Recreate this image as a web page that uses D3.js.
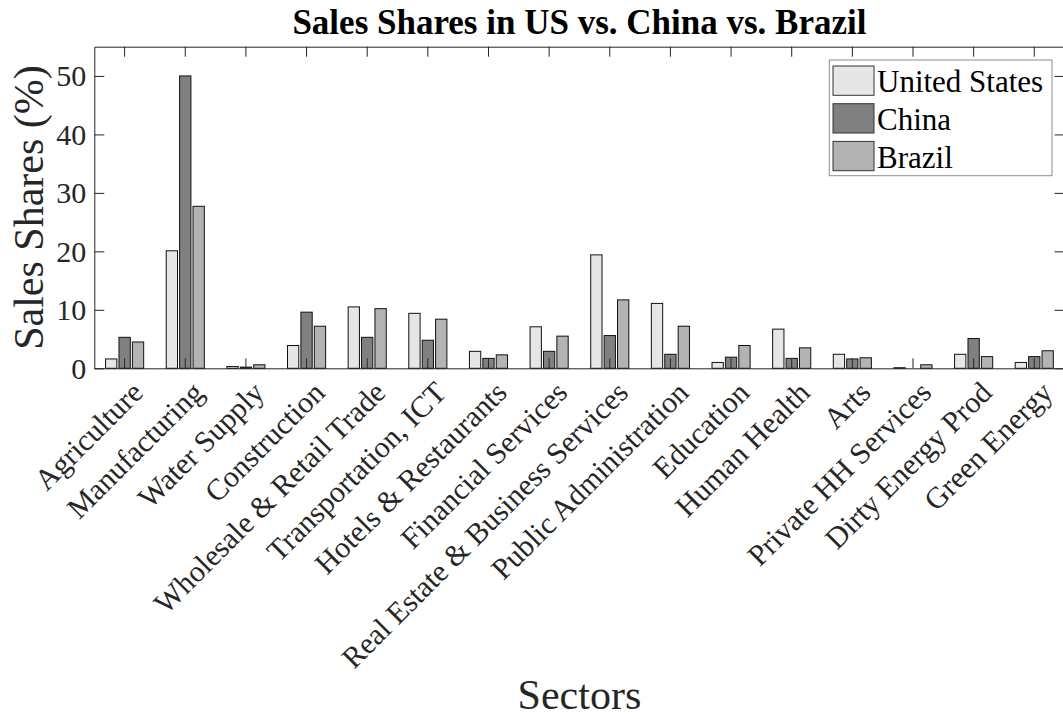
<!DOCTYPE html>
<html>
<head>
<meta charset="utf-8">
<script src="https://cdn.jsdelivr.net/npm/d3@7"></script>
<style>
  html, body { margin: 0; padding: 0; background: #fff; }
  svg { display: block; }
</style>
</head>
<body>
<svg id="chart" width="1063" height="719"></svg>
<script>
const categories = ["Agriculture", "Manufacturing", "Water Supply", "Construction",
  "Wholesale & Retail Trade", "Transportation, ICT", "Hotels & Restaurants",
  "Financial Services", "Real Estate & Business Services", "Public Administration",
  "Education", "Human Health", "Arts", "Private HH Services", "Dirty Energy Prod", "Green Energy"];
const seriesNames = ["United States", "China", "Brazil"];
const usValues     = [1.6, 20.1, 0.3, 3.9, 10.5, 9.4, 2.9, 7.1, 19.4, 11.1, 1.0, 6.7, 2.4, 0.1, 2.4, 1.0];
const chinaValues  = [5.3, 50.0, 0.2, 9.6, 5.3, 4.8, 1.7, 2.9, 5.6, 2.4, 1.9, 1.7, 1.6, 0.0, 5.1, 2.0];
const brazilValues = [4.5, 27.7, 0.6, 7.2, 10.2, 8.4, 2.3, 5.5, 11.7, 7.2, 3.9, 3.5, 1.8, 0.6, 2.0, 3.0];
const yTicks = [0, 10, 20, 30, 40, 50];
const yMax = 55;
const seriesColors = ["#e6e6e6", "#808080", "#b3b3b3"];

const FONT = "'Liberation Serif', 'Times New Roman', Times, serif";
const seriesValues = [usValues, chinaValues, brazilValues];
const rows = categories.map((c, i) => ({cat: c, vals: seriesNames.map((s, j) => ({key: s, value: seriesValues[j][i]}))}));

const svg = d3.select("#chart");
const L = 94.3, R = 1064.6, T = 46.7, B = 368.3;
const axisColor = "#262626";

const x0 = d3.scaleBand().domain(categories).range([L, R]).padding(0);
const groupW = x0.bandwidth() * 0.663;
const x1 = d3.scaleBand().domain(seriesNames).range([0, groupW]).paddingInner(0.157).paddingOuter(0.0785);
const y = d3.scaleLinear().domain([0, yMax]).range([B, T]);
const color = d3.scaleOrdinal().domain(seriesNames).range(seriesColors);

// bars
const g = svg.append("g");
g.selectAll("g.grp").data(rows).join("g").attr("class", "grp")
  .attr("transform", d => `translate(${x0(d.cat) + x0.bandwidth() / 2 - groupW / 2},0)`)
  .selectAll("rect").data(d => d.vals).join("rect")
  .attr("x", d => x1(d.key))
  .attr("width", x1.bandwidth())
  .attr("y", d => y(d.value))
  .attr("height", d => B - y(d.value))
  .attr("fill", d => color(d.key))
  .attr("stroke", "#111")
  .attr("stroke-width", 1);

// axes (MATLAB-style inner ticks, boxed)
const tickLen = 10;
const xBottom = d3.axisBottom(x0).tickSize(-tickLen).tickSizeOuter(0).tickFormat("");
const xTop = d3.axisTop(x0).tickSize(-tickLen).tickSizeOuter(0).tickFormat("");
const yLeft = d3.axisLeft(y).tickValues(yTicks).tickSize(-tickLen).tickSizeOuter(0).tickPadding(8);
const yRight = d3.axisRight(y).tickValues(yTicks).tickSize(-tickLen).tickSizeOuter(0).tickFormat("");

function styleAxis(sel) {
  sel.attr("font-family", FONT);
  sel.selectAll("path").attr("stroke", axisColor).attr("stroke-width", 1);
  sel.selectAll("line").attr("stroke", axisColor).attr("stroke-width", 1);
}
svg.append("g").attr("transform", `translate(0,${B})`).call(xBottom).call(styleAxis);
svg.append("g").attr("transform", `translate(0,${T})`).call(xTop).call(styleAxis);
const gyL = svg.append("g").attr("transform", `translate(${L},0)`).call(yLeft).call(styleAxis);
svg.append("g").attr("transform", `translate(${R},0)`).call(yRight).call(styleAxis);
gyL.selectAll("text").style("font-family", FONT).attr("font-size", 30).attr("fill", axisColor).attr("dy", "0.33em");

// rotated x tick labels
svg.append("g").selectAll("text").data(categories).join("text")
  .attr("transform", d => `translate(${x0(d) + x0.bandwidth() / 2 + 20},${B + 26}) rotate(-45)`)
  .attr("text-anchor", "end")
  .style("font-family", FONT)
  .attr("font-size", 30)
  .attr("fill", axisColor)
  .text(d => d);

// title
svg.append("text").attr("x", (L + R) / 2).attr("y", 34).attr("text-anchor", "middle")
  .style("font-family", FONT)
  .attr("font-size", 35).attr("font-weight", "bold").attr("fill", "#000")
  .text("Sales Shares in US vs. China vs. Brazil");

// axis labels
svg.append("text").attr("x", (L + R) / 2).attr("y", 709).attr("text-anchor", "middle")
  .style("font-family", FONT)
  .attr("font-size", 42).attr("fill", axisColor).text("Sectors");
svg.append("text").attr("transform", `translate(43,${(T + B) / 2}) rotate(-90)`).attr("text-anchor", "middle")
  .style("font-family", FONT)
  .attr("font-size", 42).attr("fill", axisColor).text("Sales Shares (%)");

// legend
const lg = svg.append("g");
lg.append("rect").attr("x", 829.3).attr("y", 60).attr("width", 222.7).attr("height", 115.7)
  .attr("fill", "#fff").attr("stroke", "#8c8c8c").attr("stroke-width", 1);
const items = lg.selectAll("g.item").data(seriesNames).join("g").attr("class", "item")
  .attr("transform", (d, i) => `translate(0,${i * 37.7})`);
items.append("rect").attr("x", 833).attr("y", 66).attr("width", 41).attr("height", 29.3)
  .attr("fill", d => color(d)).attr("stroke", "#333").attr("stroke-width", 1);
items.append("text").attr("x", 877).attr("y", 92.3)
  .style("font-family", FONT)
  .attr("font-size", 31).attr("fill", "#000").text(d => d);
</script>
</body>
</html>
